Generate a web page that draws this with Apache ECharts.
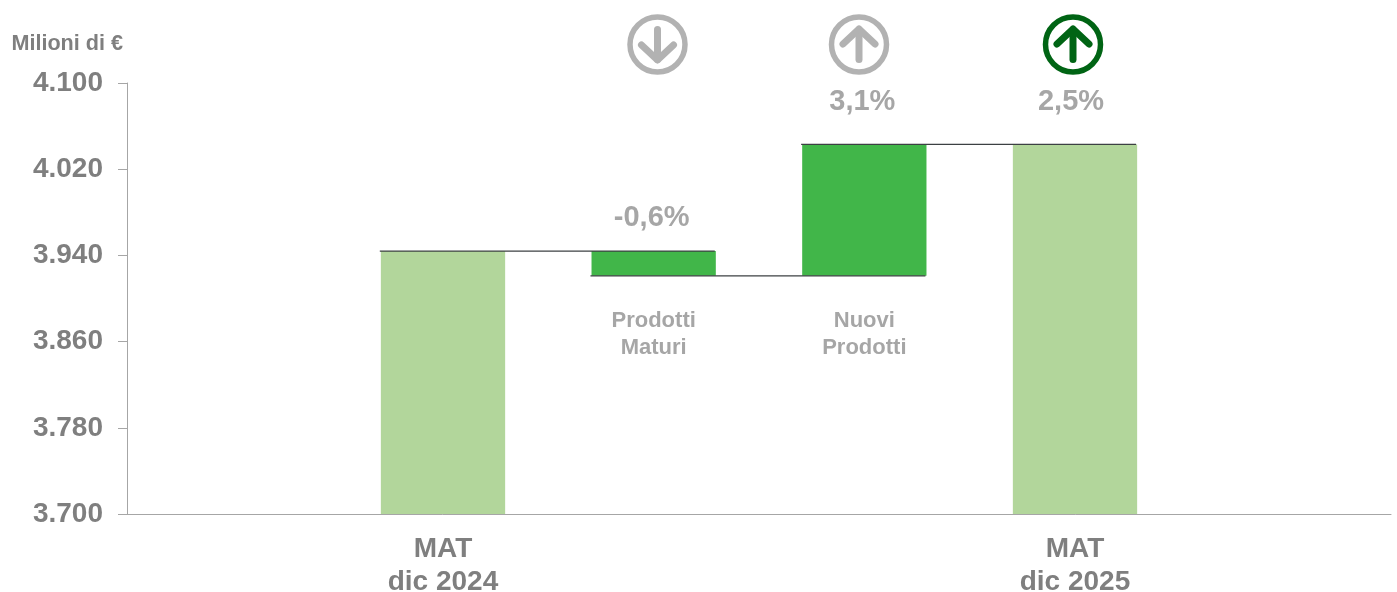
<!DOCTYPE html>
<html><head><meta charset="utf-8">
<style>html,body{margin:0;padding:0;background:#fff}#c{width:1397px;height:592px}</style>
<script src="https://cdn.jsdelivr.net/npm/echarts@6/dist/echarts.min.js"></script>
</head><body><div id="c"></div>
<script>
const categories = ['', 'MAT\ndic 2024', 'Prodotti\nMaturi', 'Nuovi\nProdotti', 'MAT\ndic 2025', ''];
const axisLabels = ['', 'MAT\ndic 2024', '', '', 'MAT\ndic 2025', ''];
const innerLabels = ['', '', 'Prodotti\nMaturi', 'Nuovi\nProdotti', '', ''];
const invisibleBase = [null, null, 3921, 3921, null, null];
const totals = [null, 3944, null, null, 4043, null];
const deltas = [null, null, 23, 122, null, null];
const percentLabels = ['', '', '-0,6%', '3,1%', '2,5%', ''];
const connectors = [[3944, 1, 2], [3921, 2, 3], [4043, 3, 4]];
const yMin = 3700, yMax = 4100, yStep = 80;
const font = '"Liberation Sans", Arial, sans-serif';
const GREY = '#7f7f7f', LIGHT = '#a6a6a6', ICON = '#b2b2b2', DARK = '#006414';

function icon(cx, cy, up, color) {
  const s = up ? 1 : -1;
  return {
    type: 'group', x: cx, y: cy, children: [
      { type: 'circle', shape: { r: 27.5 }, style: { fill: '#fff', stroke: color, lineWidth: 5.5 } },
      { type: 'line', shape: { x1: 0, y1: -s * 15, x2: 0, y2: s * 15 }, style: { stroke: color, lineWidth: 7, lineCap: 'round' } },
      { type: 'polyline', shape: { points: [[-16, -s * 0.5], [0, -s * 15.5], [16, -s * 0.5]] }, style: { stroke: color, lineWidth: 7, lineCap: 'round', lineJoin: 'round', fill: 'none' } }
    ]
  };
}

const chart = echarts.init(document.getElementById('c'), null, { renderer: 'canvas' });
chart.setOption({
  animation: false,
  backgroundColor: '#fff',
  textStyle: { fontFamily: font },
  grid: { left: 127, right: 6, top: 83, bottom: 78, containLabel: false, outerBoundsMode: 'none' },
  xAxis: {
    type: 'category', data: categories,
    axisTick: { show: false },
    axisLine: { lineStyle: { color: LIGHT, width: 1 } },
    axisLabel: {
      interval: 0, margin: 19, color: GREY, fontSize: 28, fontWeight: 'bold', lineHeight: 33, fontFamily: font,
      formatter: (v, i) => axisLabels[i]
    }
  },
  yAxis: {
    type: 'value', min: yMin, max: yMax, interval: yStep,
    name: 'Milioni di €', nameLocation: 'end', nameGap: 28,
    nameTextStyle: { color: GREY, fontSize: 21.6, fontWeight: 'bold', fontFamily: font, align: 'right', padding: [0, 4, 0, 0] },
    splitLine: { show: false },
    axisLine: { show: true, lineStyle: { color: LIGHT, width: 1 } },
    axisTick: { show: true, length: 9, lineStyle: { color: LIGHT, width: 1 } },
    axisLabel: {
      margin: 24, color: GREY, fontSize: 28, fontWeight: 'bold', fontFamily: font,
      formatter: v => String(v).replace(/(\d)(\d{3})$/, '$1.$2')
    }
  },
  series: [
    {
      type: 'bar', stack: 'w', barWidth: '59%', data: invisibleBase,
      itemStyle: { color: 'transparent' },
      label: {
        show: true, position: 'insideTop', distance: 32, color: LIGHT, fontSize: 22, fontWeight: 'bold', lineHeight: 27, fontFamily: font,
        formatter: p => innerLabels[p.dataIndex]
      }
    },
    {
      type: 'bar', stack: 'w', barWidth: '59%', data: deltas, itemStyle: { color: '#41b649' },
      label: {
        show: true, position: 'top', color: LIGHT, fontSize: 29, fontWeight: 'bold', fontFamily: font,
        distance: 19, formatter: p => percentLabels[p.dataIndex]
      },
      labelLayout: p => p.dataIndex === 2 ? { dx: -2, dy: 0 } : { dx: -2, dy: -9 }
    },
    {
      type: 'bar', stack: 'w', barWidth: '59%', data: totals, itemStyle: { color: '#b2d69b' },
      label: {
        show: true, position: 'top', color: LIGHT, fontSize: 29, fontWeight: 'bold', fontFamily: font,
        distance: 28, offset: [-4, 0], formatter: p => percentLabels[p.dataIndex]
      }
    },
    {
      type: 'custom', coordinateSystem: 'cartesian2d', silent: true, z: 5,
      data: connectors,
      encode: { y: 0 },
      renderItem: (params, api) => {
        const band = api.size([1, 0])[0];
        const a = api.coord([api.value(1), api.value(0)]);
        const b = api.coord([api.value(2), api.value(0)]);
        return {
          type: 'line',
          shape: { x1: a[0] - band * 0.30, y1: a[1], x2: b[0] + band * 0.29, y2: b[1] },
          style: { stroke: '#3c4043', lineWidth: 1.2 }
        };
      }
    }
  ],
  graphic: [icon(657.5, 44.5, false, ICON), icon(859, 44.5, true, ICON), icon(1073, 44.5, true, DARK)]
});
</script></body></html>
